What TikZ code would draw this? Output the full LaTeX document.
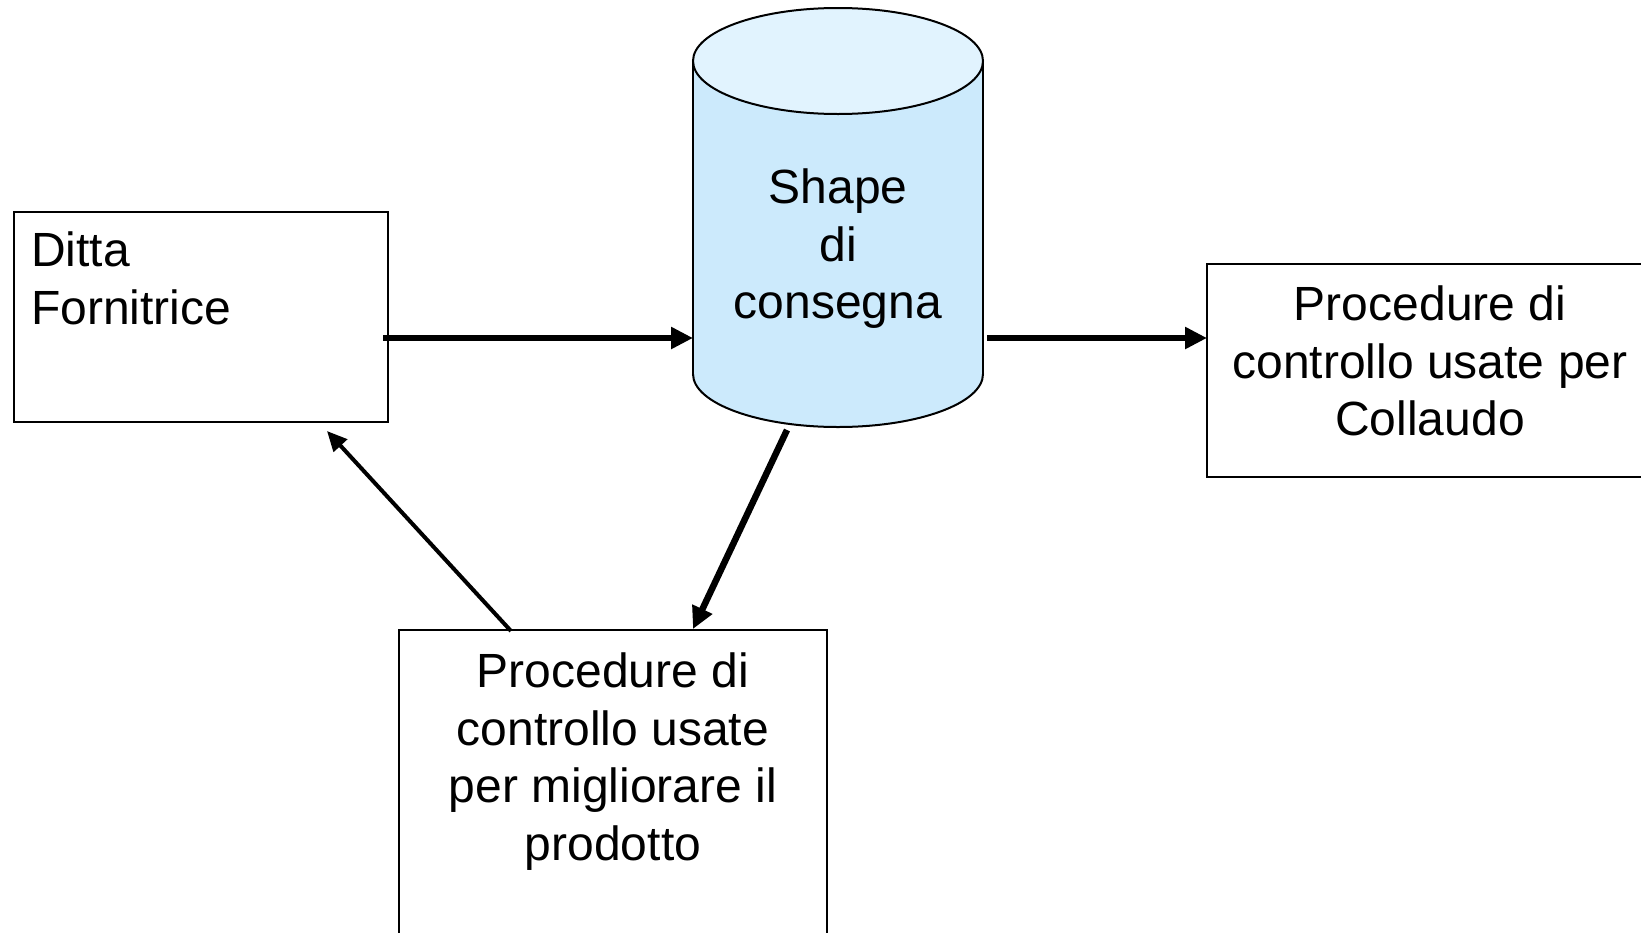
\documentclass[tikz,border=0pt]{standalone}
\usepackage{fontspec}
\setmainfont{Liberation Sans}
\usetikzlibrary{arrows.meta}
\definecolor{cylbody}{HTML}{CCEAFC}
\definecolor{cyltop}{HTML}{E1F3FE}
\tikzset{
  box/.style={draw=black, line width=2pt, fill=white, inner sep=0pt},
  txt/.style={font=\fontsize{48pt}{57.5pt}\selectfont, inner sep=0pt},
  outline/.style={draw=black, line width=2pt},
  thickarrow/.style={line width=6.5pt, -{Triangle[length=22pt,width=21pt]}},
  thinarrow/.style={line width=4pt, -{Triangle[length=20pt,width=18pt]}}
}
\begin{document}
\begin{tikzpicture}[x=1pt, y=-1pt]
\useasboundingbox (0,0) rectangle (1641,932);
\clip (0,0) rectangle (1641,932);
\fill[white] (0,0) rectangle (1641,932);

% cylinder
\fill[cylbody] (693,61) rectangle (983,374);
\filldraw[fill=cylbody, outline] (838,374) ellipse [x radius=145pt, y radius=53pt];
\fill[cylbody] (693,61) rectangle (983,374);
\draw[outline] (693,61) -- (693,374) (983,61) -- (983,374);
\filldraw[fill=cyltop, outline] (838,61) ellipse [x radius=145pt, y radius=53pt];
\node[txt, align=center, anchor=north] (cyl) at (838,169) {Shape\\di\\consegna};

% boxes
\node[box, minimum width=374pt, minimum height=210pt,
  label={[txt, align=left, anchor=north west, xshift=18pt, yshift=-21pt]north west:Ditta\\Fornitrice}]
  (ditta) at (201,317) {};
\node[box, minimum width=446pt, minimum height=213pt,
  label={[txt, align=center, anchor=north, yshift=-23pt]north:Procedure di\\controllo usate per\\Collaudo}]
  (coll) at (1430,370.5) {};
\node[box, minimum width=428pt, minimum height=400pt,
  label={[txt, align=center, anchor=north, yshift=-24pt]north:Procedure di\\controllo usate\\per migliorare il\\prodotto}]
  (migl) at (613,830) {};

% connector end points
\coordinate (d-out) at (383,338);
\coordinate (c-in) at (693,338);
\coordinate (c-out) at (987,338);
\coordinate (k-in) at (1207,338);
\coordinate (c-down) at (787,430);
\coordinate (m-in) at (693,629);
\coordinate (m-out) at (511,631);
\coordinate (d-in) at (327,431);

\draw[thickarrow] (d-out) -- (c-in);
\draw[thickarrow] (c-out) -- (k-in);
\draw[thickarrow] (c-down) -- (m-in);
\draw[thinarrow] (m-out) -- (d-in);
\end{tikzpicture}
\end{document}
